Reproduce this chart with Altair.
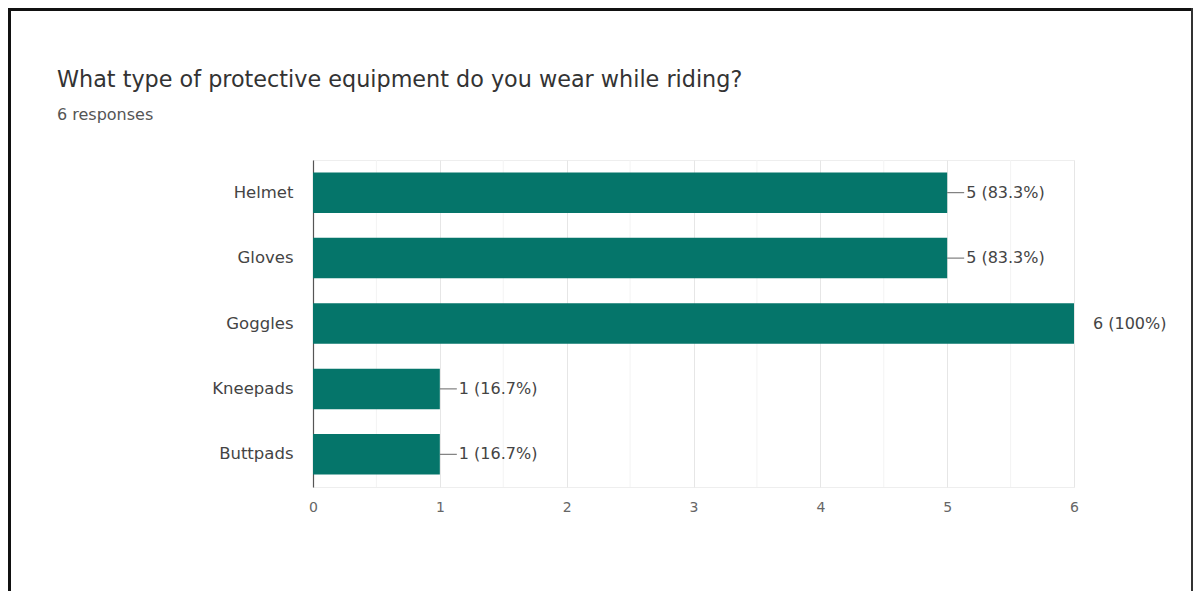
import altair as alt
import pandas as pd

# ---- data ----
categories = ["Helmet", "Gloves", "Goggles", "Kneepads", "Buttpads"]
counts = [5, 5, 6, 1, 1]
value_labels = ["5 (83.3%)", "5 (83.3%)", "6 (100%)", "1 (16.7%)", "1 (16.7%)"]
show_connector = [True, True, False, True, True]
x_ticks = [0, 1, 2, 3, 4, 5, 6]
minor_grid = [0.5, 1.5, 2.5, 3.5, 4.5, 5.5]
title_text = "What type of protective equipment do you wear while riding?"
subtitle_text = "6 responses"

df = pd.DataFrame({
    "category": categories,
    "count": counts,
    "label": value_labels,
    "connector": show_connector,
})
minor_df = pd.DataFrame({"v": minor_grid})

W, H = 761, 327
PAD_L, PAD_T = 305, 152
TOTAL_W, TOTAL_H = 1185, 583
FONT = "DejaVu Sans"

x_scale = alt.Scale(domain=[0, 6], nice=False)
x_axis = alt.Axis(
    values=x_ticks, format="d", labelFont=FONT, labelFontSize=14,
    labelColor="#666666", labelPadding=13, ticks=False, domain=False,
    labelFlush=False, labelOverlap=False,
    grid=True, gridColor="#e6e6e6", gridWidth=1,
)
y_enc = alt.Y(
    "category:N",
    sort=categories,
    title=None,
    scale=alt.Scale(paddingInner=0.38, paddingOuter=0.19),
    axis=alt.Axis(
        labelFont=FONT, labelFontSize=16.5, labelColor="#444444",
        labelPadding=20, ticks=False, domain=True, domainColor="#555555",
        domainWidth=1.2, grid=False,
    ),
)

minor = alt.Chart(minor_df).mark_rule(color="#f3f3f3", strokeWidth=1).encode(
    x=alt.X("v:Q", scale=x_scale, title=None, axis=x_axis)
)

bars = alt.Chart(df).mark_bar(color="#05756a").encode(
    x=alt.X("count:Q", scale=x_scale, title=None, axis=x_axis), y=y_enc
)

connectors = alt.Chart(df).transform_filter("datum.connector").mark_rule(
    color="#666666", strokeWidth=1, x2Offset=17
).encode(
    x=alt.X("count:Q", scale=x_scale, title=None, axis=x_axis),
    x2=alt.X2("count"),
    y=y_enc,
)

texts = alt.Chart(df).mark_text(
    align="left", baseline="middle", dx=19, font=FONT,
    fontSize=16, color="#444444",
).encode(
    x=alt.X("count:Q", scale=x_scale, title=None, axis=x_axis),
    y=y_enc,
    text="label:N",
)

title_df = pd.DataFrame({"t": [title_text]})
sub_df = pd.DataFrame({"t": [subtitle_text]})

title = alt.Chart(title_df).mark_text(
    align="left", baseline="middle", font=FONT, fontSize=22.3, color="#333333"
).encode(x=alt.value(57 - 8 - PAD_L), y=alt.value(80 - 8 - PAD_T), text="t:N")

subtitle = alt.Chart(sub_df).mark_text(
    align="left", baseline="middle", font=FONT, fontSize=16, color="#555555"
).encode(x=alt.value(57 - 8 - PAD_L), y=alt.value(115 - 8 - PAD_T), text="t:N")

border_l = alt.Chart(title_df).mark_rule(color="#111111", strokeWidth=3).encode(
    x=alt.value(1.5 - PAD_L), y=alt.value(-PAD_T), y2=alt.value(TOTAL_H - PAD_T)
)
border_t = alt.Chart(title_df).mark_rule(color="#111111", strokeWidth=3).encode(
    x=alt.value(-PAD_L), x2=alt.value(TOTAL_W - PAD_L), y=alt.value(1.5 - PAD_T)
)
border_r = alt.Chart(title_df).mark_rule(color="#333333", strokeWidth=2).encode(
    x=alt.value(TOTAL_W - PAD_L - 1), y=alt.value(-PAD_T), y2=alt.value(TOTAL_H - PAD_T)
)

chart = alt.layer(
    minor, bars, connectors, texts, title, subtitle, border_l, border_t, border_r
).properties(
    width=W, height=H,
    autosize=alt.AutoSizeParams(type="none"),
    padding={"left": PAD_L, "top": PAD_T, "right": TOTAL_W - PAD_L - W,
             "bottom": TOTAL_H - PAD_T - H},
    background="white",
).configure_view(stroke="#eeeeee", strokeWidth=1)

chart.save("out.html", embed_options={"renderer": "svg", "actions": False})
